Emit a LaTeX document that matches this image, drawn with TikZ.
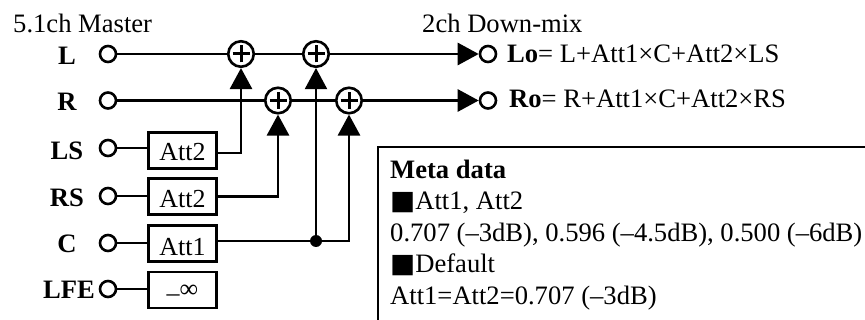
\documentclass[tikz,border=0pt]{standalone}
\usepackage{fontspec}
\setmainfont{Liberation Serif}
\newfontfamily\symfont{DejaVu Sans}
\usetikzlibrary{arrows.meta}
\tikzset{
  sig/.style={line width=2.8pt},
  tipped/.style={sig,-{Triangle[length=21pt,width=22pt]}},
  port/.style={circle,draw,fill=white,line width=2.6pt,minimum size=16pt,inner sep=0pt},
  attbox/.style={rectangle,draw,line width=2.2pt,minimum width=68pt,minimum height=36pt,inner sep=0pt},
  adder/.style={circle,draw,fill=white,line width=2.6pt,minimum size=25.5pt,inner sep=0pt,
    path picture={\draw[line width=3pt] (path picture bounding box.center) +(-8.5pt,0) -- +(8.5pt,0)
      (path picture bounding box.center) +(0,-8.5pt) -- +(0,8.5pt);}},
  txt/.style={inner sep=0pt,anchor=base west,font=\fontsize{26.6}{30}\selectfont},
  chan/.style={inner sep=0pt,anchor=base,font=\fontsize{26.6}{30}\selectfont\bfseries},
  boxtxt/.style={inner sep=0pt,anchor=base,font=\fontsize{26}{30}\selectfont}
}
\begin{document}
\begin{tikzpicture}[x=1pt,y=-1pt]
\useasboundingbox (0,0) rectangle (865,320);
\fill[white] (0,0) rectangle (865,320);
% ports
\node[port] (iL) at (108,54) {};
\node[port] (iR) at (108,100.5) {};
\node[port] (iLS) at (108,148) {};
\node[port] (iRS) at (108,196) {};
\node[port] (iC) at (108,243) {};
\node[port] (iLFE) at (108,289) {};
\node[port] (oL) at (488,54) {};
\node[port] (oR) at (488,100.5) {};
% attenuators
\node[attbox] (bLS) at (182.5,150.5) {};
\node[attbox] (bRS) at (182.5,196.5) {};
\node[attbox] (bC) at (182.5,243.5) {};
\node[attbox] (bLFE) at (182.5,290) {};
% adders
\node[adder] (s1) at (241,54) {};
\node[adder] (s2) at (278,100.5) {};
\node[adder] (s3) at (316,54) {};
\node[adder] (s4) at (349,100.5) {};
\node[circle,fill,inner sep=0pt,minimum size=12pt] (dot) at (316,241) {};
% signal lines
\draw[sig] (iL) -- (s1);
\draw[sig] (s1) -- (s3);
\draw[tipped] (s3) -- (oL);
\draw[sig] (iR) -- (s2);
\draw[sig] (s2) -- (s4);
\draw[tipped] (s4) -- (oR);
\draw[sig] (iLS) -- (iLS -| bLS.west);
\draw[sig] (iRS) -- (iRS -| bRS.west);
\draw[sig] (iC) -- (iC -| bC.west);
\draw[sig] (iLFE) -- (iLFE -| bLFE.west);
\draw[tipped] ([yshift=-2.5pt]bLS.east) -| (s1);
\draw[tipped] (bRS.east) -| (s2);
\draw[sig] (dot -| bC.east) -- (dot);
\draw[tipped] (dot) -| (s4);
\draw[tipped,line width=2pt] (dot) -- (s3);
% labels
\node[txt] (tM) at (13,33) {5.1ch Master};
\node[txt] (tD) at (422,33) {2ch Down-mix};
\node[chan] (lL) at (67,65) {L};
\node[chan] (lR) at (67,111) {R};
\node[chan] (lLS) at (67,160) {LS};
\node[chan] (lRS) at (67,207) {RS};
\node[chan] (lC) at (67,253) {C};
\node[chan] (lLFE) at (69,299) {LFE};
\node[boxtxt] (tLS) at (182.5,161) {Att2};
\node[boxtxt] (tRS) at (182.5,208) {Att2};
\node[boxtxt] (tC) at (182.5,256) {Att1};
\node[boxtxt] (tLFE) at (182.5,298) {\raisebox{-0.12em}{–}∞};
\node[txt] (eL) at (507,63) {\textbf{Lo}= L+Att1×C+Att2×LS};
\node[txt] (eR) at (509,108) {\textbf{Ro}= R+Att1×C+Att2×RS};
% meta data box
\begin{scope}
\clip (0,0) rectangle (865,320);
\node[rectangle,draw,line width=2.2pt,inner sep=0pt,anchor=north west,minimum width=500pt,minimum height=190pt] (meta) at (377,146) {};
\end{scope}
\node[txt] (m1) at (390,179) {\textbf{Meta data}};
\node[txt] (m2) at (390,210) {{\symfont ■}Att1, Att2};
\node[txt] (m3) at (390,242) {0.707 (–3dB), 0.596 (–4.5dB), 0.500 (–6dB)};
\node[txt] (m4) at (390,273) {{\symfont ■}Default};
\node[txt] (m5) at (390,305) {Att1=Att2=0.707 (–3dB)};
\end{tikzpicture}
\end{document}
